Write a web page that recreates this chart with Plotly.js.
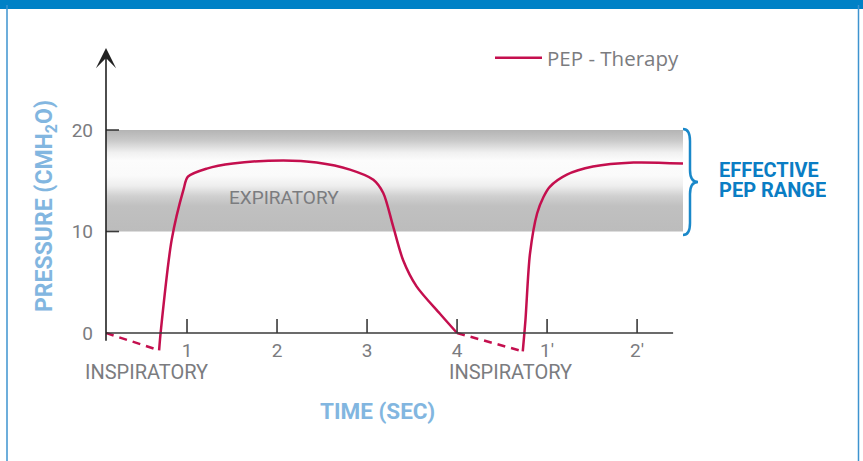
<!DOCTYPE html>
<html>
<head>
<meta charset="utf-8">
<script src="https://cdn.plot.ly/plotly-3.0.1.min.js"></script>
<style>
  html, body { margin: 0; padding: 0; background: #fff; }
  #chart { width: 863px; height: 461px; }
</style>
</head>
<body>
<div id="chart"></div>
<script>
// ---- data ----
var timeSolid = [0.69, 0.71, 0.83, 0.96, 1.01, 1.22, 1.51, 2.07, 2.44, 2.81, 3.07, 3.18, 3.29, 3.40, 3.55, 3.81, 4.0,
                 null,
                 4.73, 4.76, 4.81, 4.89, 4.96, 5.03, 5.22, 5.51, 5.96, 6.51];
var pressureSolid = [-1.7, 0.3, 9.2, 14.1, 15.4, 16.2, 16.7, 17.0, 16.8, 16.1, 15.1, 13.8, 10.5, 7.2, 4.6, 1.9, 0.0,
                     null,
                     -1.8, 1.3, 7.8, 11.8, 13.4, 14.4, 15.6, 16.4, 16.8, 16.7];
var timeDashed = [0.1, 0.69, null, 4.0, 4.73];
var pressureDashed = [0, -1.7, null, 0, -1.8];
var rangeTime = [0.1, 6.51];
var rangeLow = 10;
var rangeHigh = 20;
var xTickVals = [1, 2, 3, 4, 5, 6];
var xTickText = ['1', '2', '3', '4', '1\u2032', '2\u2032'];
var yTickVals = [0, 10, 20];
var seriesName = 'PEP - Therapy';

// ---- style ----
var crimson = '#c40f4e';
var gray = '#7b7c7f';
var lightBlue = '#82b6e0';
var blue = '#0a7dc4';
var axisColor = '#3a3a3a';
var font = 'Roboto, "Open Sans", sans-serif';

var yMin = -2.46, yMax = 28.08;
var xMin = 0.1, xMax = 6.51;
var m = {l: 106, r: 180, t: 48, b: 103};
var plotW = 863 - m.l - m.r, plotH = 461 - m.t - m.b;
function px2paperX(px) { return (px - m.l) / plotW; }
function px2paperY(py) { return (461 - m.b - py) / plotH; }

var band = {
  x: [rangeTime[0], rangeTime[1], rangeTime[1], rangeTime[0], rangeTime[0]],
  y: [rangeLow, rangeLow, rangeHigh, rangeHigh, rangeLow],
  type: 'scatter', mode: 'lines', fill: 'toself',
  line: {width: 0},
  fillgradient: {
    type: 'vertical', start: rangeLow, stop: rangeHigh,
    colorscale: [[0, '#bcbcbc'], [0.25, '#c0c0c0'], [0.35, '#d0d0d0'], [0.45, '#eeeeee'],
                 [0.55, '#fafafa'], [0.7, '#fcfcfc'], [0.78, '#f0f0f0'], [0.9, '#c8c8c8'], [1, '#b4b4b4']]
  },
  showlegend: false, hoverinfo: 'skip'
};

var dashed = {
  x: timeDashed, y: pressureDashed, type: 'scatter', mode: 'lines',
  line: {color: crimson, width: 2.5, dash: '8px,6px'},
  connectgaps: false, showlegend: false, hoverinfo: 'skip'
};

var solid = {
  x: timeSolid, y: pressureSolid, type: 'scatter', mode: 'lines', name: seriesName,
  line: {color: crimson, width: 2.5, shape: 'spline', smoothing: 0.8},
  connectgaps: false, showlegend: true
};

var shapes = [];
// top blue bar
shapes.push({type: 'rect', xref: 'paper', yref: 'paper',
  x0: px2paperX(0), x1: px2paperX(863), y0: px2paperY(9), y1: px2paperY(-2),
  fillcolor: '#0081c6', line: {width: 0}, layer: 'above'});
// side frame lines
shapes.push({type: 'line', xref: 'paper', yref: 'paper',
  x0: px2paperX(7), x1: px2paperX(7), y0: px2paperY(470), y1: px2paperY(5),
  line: {color: '#3d93cf', width: 1.5}});
shapes.push({type: 'line', xref: 'paper', yref: 'paper',
  x0: px2paperX(858.5), x1: px2paperX(858.5), y0: px2paperY(470), y1: px2paperY(5),
  line: {color: '#3d93cf', width: 1.5}});
// x axis line
shapes.push({type: 'line', xref: 'x', yref: 'y', x0: xMin, x1: 6.4, y0: 0, y1: 0,
  line: {color: axisColor, width: 1.6}});
// x ticks
xTickVals.forEach(function (v) {
  shapes.push({type: 'line', xref: 'x', yref: 'y', ysizemode: 'pixel', yanchor: 0,
    x0: v, x1: v, y0: 0, y1: 14, line: {color: axisColor, width: 1.6}});
});
// y ticks
yTickVals.filter(function (v) { return v !== 0; }).forEach(function (v) {
  shapes.push({type: 'line', xref: 'x', yref: 'y', xsizemode: 'pixel', xanchor: xMin,
    x0: -8, x1: 13, y0: v, y1: v, line: {color: axisColor, width: 1.6}});
});
// brace (right of the plot area)
shapes.push({type: 'path', xref: 'paper', yref: 'paper', xsizemode: 'pixel', xanchor: 1,
  ysizemode: 'scaled',
  path: 'M0,' + px2paperY(129) + ' Q7,' + px2paperY(129) + ' 7,' + px2paperY(141) +
        ' L7,' + px2paperY(170) + ' Q7,' + px2paperY(182) + ' 15,' + px2paperY(182) +
        ' Q7,' + px2paperY(182) + ' 7,' + px2paperY(194) +
        ' L7,' + px2paperY(223) + ' Q7,' + px2paperY(235) + ' 0,' + px2paperY(235),
  line: {color: '#1a88c9', width: 2.5}});

function pa(text, px, py, size, color, extra) {
  var a = {x: px2paperX(px), y: px2paperY(py), xref: 'paper', yref: 'paper', text: text,
    xanchor: 'center', yanchor: 'middle',
    showarrow: false, font: {family: font, size: size, color: color}};
  for (var k in (extra || {})) a[k] = extra[k];
  return a;
}

var annotations = [
  // y axis with arrow
  {x: xMin, y: yMax, ax: xMin, ay: -0.9, xref: 'x', yref: 'y', axref: 'x', ayref: 'y',
   text: '', showarrow: true, arrowhead: 3, arrowsize: 2.1, arrowwidth: 1.6, arrowcolor: '#222', standoff: 0},
  {x: 2.08, y: 13.4, xref: 'x', yref: 'y', text: 'EXPIRATORY', showarrow: false,
   font: {family: font, size: 19, color: gray}},
  pa('INSPIRATORY', 146, 372, 20, gray),
  pa('INSPIRATORY', 510, 372, 20, gray),
  pa('<b>TIME (SEC)</b>', 377, 411, 22.5, lightBlue),
  pa('<b>PRESSURE (CMH<sub>2</sub>O)</b>', 46, 206, 23, lightBlue, {textangle: -90}),
  pa('<b>EFFECTIVE</b>', 717, 169.5, 20, blue, {xanchor: 'left', height: 19, valign: 'middle'}),
  pa('<b>PEP RANGE</b>', 717, 189.5, 20, blue, {xanchor: 'left', height: 19, valign: 'middle'})
];

var layout = {
  width: 863, height: 461,
  margin: m,
  paper_bgcolor: '#ffffff', plot_bgcolor: 'rgba(0,0,0,0)',
  hovermode: false,
  xaxis: {
    range: [xMin, xMax], showgrid: false, zeroline: false, showline: false,
    anchor: 'free', position: (0 - yMin) / (yMax - yMin),
    tickmode: 'array', tickvals: xTickVals, ticktext: xTickText, ticks: '',
    ticklabelstandoff: 4,
    tickfont: {family: font, size: 19, color: gray}, fixedrange: true
  },
  yaxis: {
    range: [yMin, yMax], showgrid: false, zeroline: false, showline: false,
    tickmode: 'array', tickvals: yTickVals, ticks: '', ticklabelstandoff: 12,
    tickfont: {family: font, size: 19, color: gray}, fixedrange: true
  },
  showlegend: true,
  legend: {
    x: px2paperX(490), y: px2paperY(58), xanchor: 'left', yanchor: 'middle',
    bgcolor: 'rgba(0,0,0,0)', font: {family: '"Open Sans", Roboto, sans-serif', size: 20.5, color: gray},
    itemwidth: 47
  },
  shapes: shapes,
  annotations: annotations
};

Plotly.newPlot('chart', [band, dashed, solid], layout, {displayModeBar: false, staticPlot: true});
</script>
</body>
</html>
